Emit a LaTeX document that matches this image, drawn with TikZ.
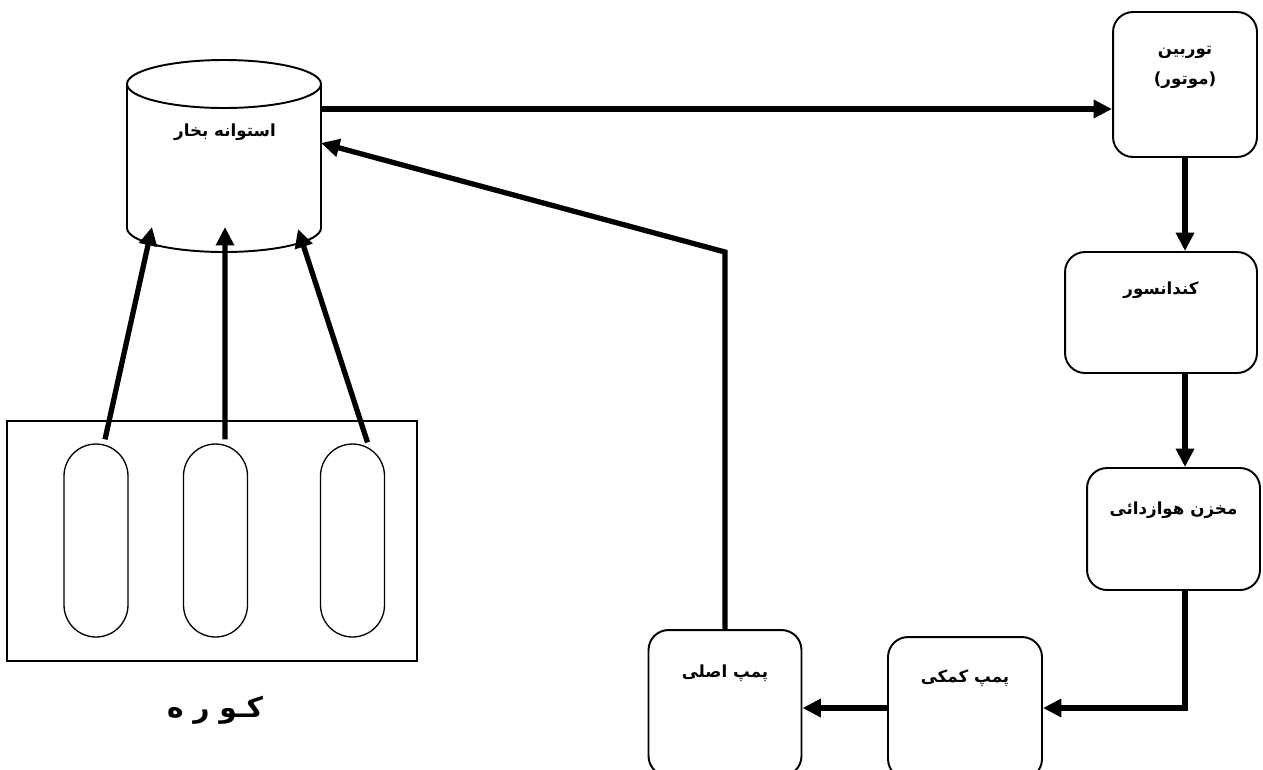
\documentclass[tikz,border=0pt]{standalone}
\usepackage{fontspec}
\usetikzlibrary{arrows.meta, calc, positioning}
\newfontfamily\farsi[Script=Arabic]{DejaVu Sans}
\TeXXeTstate=1
\tikzset{
  flowline/.style  = {line width=3pt},
  flowarrow/.style = {flowline, -{Triangle[length=10.5pt, width=10pt]}},
  drumline/.style  = {line width=1.1pt},
  unitbox/.style   = {draw, line width=1.1pt, rounded corners=0.4cm,
                      inner sep=0pt},
  tubebox/.style   = {draw, line width=0.75pt, rounded corners=0.64cm,
                      minimum width=1.28cm, minimum height=3.86cm, inner sep=0pt},
  unitlabel/.style = {font=\farsi\bfseries\fontsize{9.5}{17}\selectfont,
                      inner sep=0pt, align=center},
  furnlabel/.style = {font=\farsi\bfseries\fontsize{16}{18}\selectfont,
                      inner sep=0pt},
}

\begin{document}
\begin{tikzpicture}[x=0.02cm, y=-0.02cm]
  \useasboundingbox (0,0) rectangle (1263,769);
  % steam drum
  \draw[drumline] (224,84) ellipse [x radius=97, y radius=24];
  \draw[drumline] (127,84) -- (127,228)
    arc[start angle=180, end angle=0, x radius=97, y radius=24] -- (321,84);
  \node[unitlabel] (drumtext) at (225,132) {\beginR استوانه بخار\endR};
  \coordinate (drumout) at (321,109);
  \coordinate (drumret) at (321,143);
  \coordinate (drumin1) at (152,227);
  \coordinate (drumin2) at (225,227);
  \coordinate (drumin3) at (298,229);
  % furnace
  \node[draw, line width=0.85pt, minimum width=8.2cm, minimum height=4.8cm,
        inner sep=0pt] (furn) at (212,541) {};
  \node[tubebox] (tube1) at (96,540.5) {};
  \node[tubebox] (tube2) at (215.5,540.5) {};
  \node[tubebox] (tube3) at (352.5,540.5) {};
  \node[furnlabel] (furntext) at (215,710) {\beginR کـو ر ه\endR};
  % units
  \node[unitbox, minimum width=2.88cm, minimum height=2.9cm] (turb) at (1185,84.5) {};
  \node[unitbox, minimum width=3.84cm, minimum height=2.42cm] (cond) at (1161,312.5) {};
  \node[unitbox, minimum width=3.46cm, minimum height=2.44cm] (makh) at (1173.5,529) {};
  \node[unitbox, minimum width=3.08cm, minimum height=2.84cm] (komaki) at (965,708) {};
  \node[unitbox, minimum width=3.06cm, minimum height=2.92cm] (asli) at (725,703) {};
  \node[unitlabel, below=0.7cm of turb.north] (turbtext)
    {\beginR توربین\endR\\\beginR (موتور)\endR};
  \node[unitlabel, below=0.6cm of cond.north] (condtext) {\beginR کندانسور\endR};
  \node[unitlabel, below=0.68cm of makh.north] (makhtext) {\beginR مخزن هوازدائی\endR};
  \node[unitlabel, below=0.66cm of komaki.north] (komakitext) {\beginR پمپ کمکی\endR};
  \node[unitlabel, below=0.7cm of asli.north] (aslitext) {\beginR پمپ اصلی\endR};
  % flow
  \coordinate (bend) at (725,252);
  \draw[flowarrow] (drumout) -- (drumout -| turb.west);
  \draw[flowarrow] (turb.south) -- (turb.south |- cond.north);
  \draw[flowarrow] (cond.south -| turb.south) -- (makh.north -| turb.south);
  \draw[flowarrow] (makh.south -| turb.south) |- (komaki.east);
  \draw[flowarrow] (komaki.west) -- (komaki.west -| asli.east);
  \draw[flowarrow] (asli.north) -- (bend) -- (drumret);
  \draw[flowarrow] ($(tube1.north)+(9,-4)$) -- (drumin1);
  \draw[flowarrow] ($(tube2.north)+(9.5,-4)$) -- (drumin2);
  \draw[flowarrow] ($(tube3.north)+(15,-1)$) -- (drumin3);
\end{tikzpicture}
\end{document}
